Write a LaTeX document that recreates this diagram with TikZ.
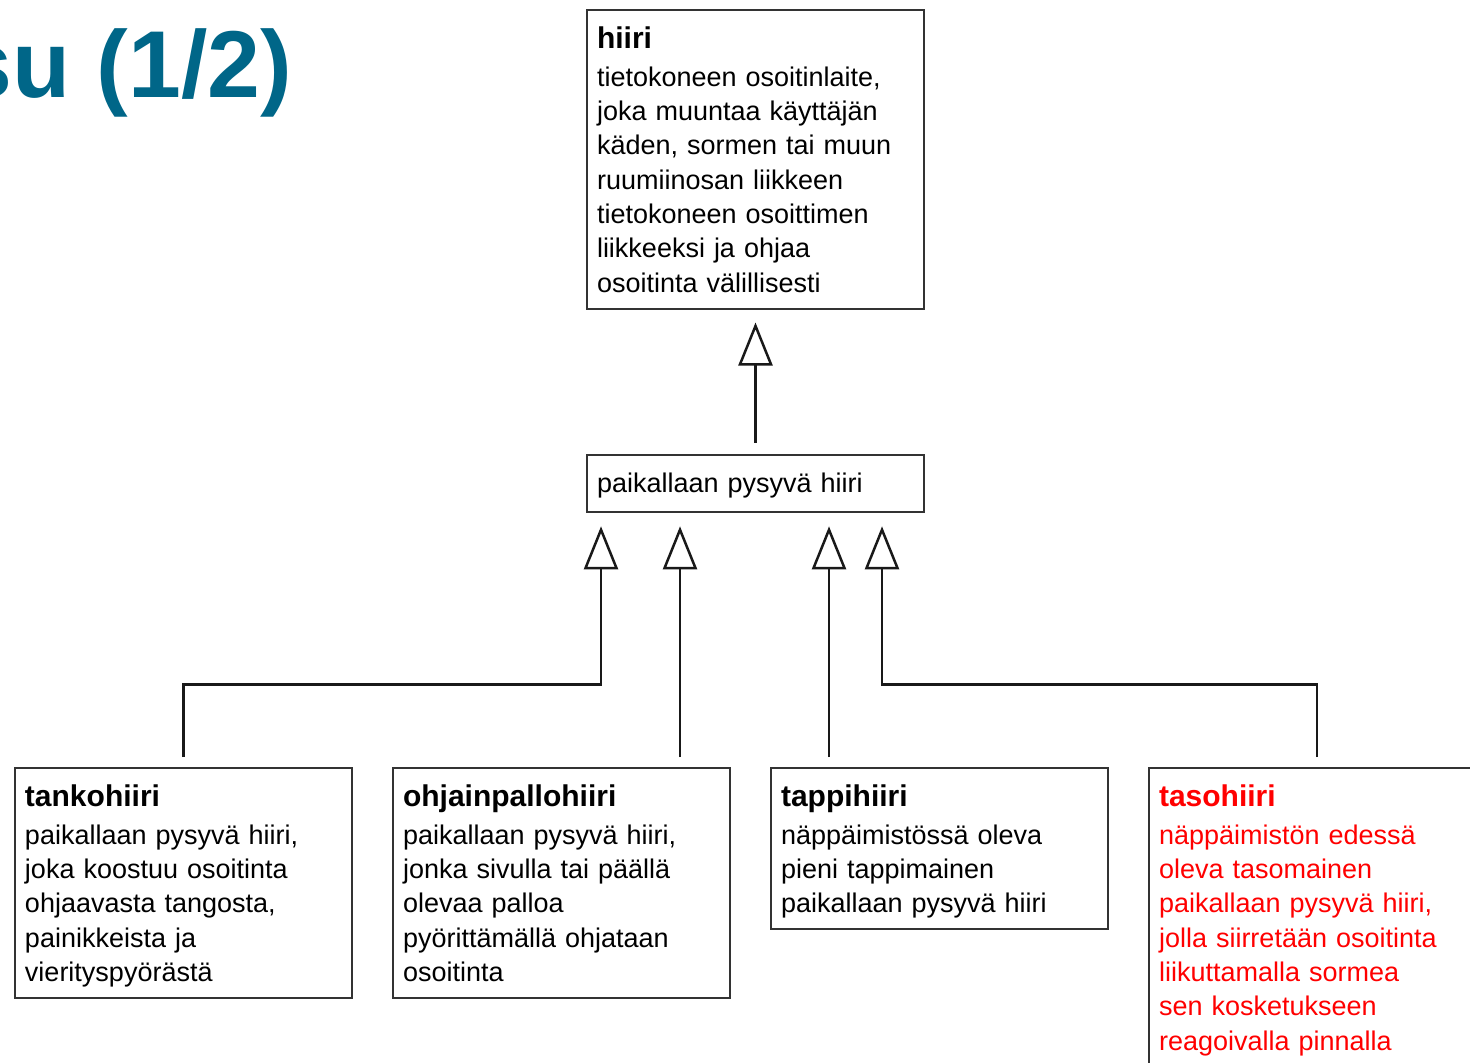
\documentclass[tikz,border=0pt]{standalone}
\usepackage{fontspec}
\setmainfont{Liberation Sans}
\usepackage{tikz}
\usetikzlibrary{positioning,calc,arrows.meta}
\definecolor{titleblue}{HTML}{006688}
\newcommand{\boxhead}[1]{{\fontsize{15}{17.15}\selectfont\bfseries #1}}

\begin{document}
\begin{tikzpicture}[
      x = 0.5pt, y = -0.5pt,
      base/.style={rectangle, draw=black!80, line width=1pt, outer sep=0pt,
        anchor=north west, align=left, text width=158.5pt,
        inner xsep=5pt, inner ysep=4pt, text height=15.4pt,
        execute at end node={\rule[-4.2pt]{0pt}{1pt}},
        font=\fontsize{13.5}{17.15}\selectfont},
      red/.style={base, text=red},
      isa/.style={line width=1.25pt, draw=black!90,
        -{Triangle[open, length=21.5pt, width=17pt, line width=1.25pt]},
        shorten <=5.5pt, shorten >=7pt},
      title/.style={inner sep=0pt, anchor=base west, text=titleblue,
        font=\fontsize{47.5}{57}\bfseries},
    ]
      \useasboundingbox (0,0) rectangle (1470,1062);
      \clip (0,0) rectangle (1470,1062);

      % title
      \node[title] (title) at (-41,97) {su (1/2)};

      % top
      \node[base] (hiiri) at (587,10) {\boxhead{hiiri}\\[1.6pt]
        tietokoneen osoitinlaite,\\
        joka muuntaa käyttäjän\\
        käden, sormen tai muun\\
        ruumiinosan liikkeen\\
        tietokoneen osoittimen\\
        liikkeeksi ja ohjaa\\
        osoitinta välillisesti};

      \node[base, text height=11.5pt, text depth=2.8pt, inner ysep=7.3pt,
        below = 73pt of hiiri.south west, anchor=north west] (paik)
        {paikallaan pysyvä hiiri};

      % bottom row
      \node[base] (tanko) at (15,768) {\boxhead{tankohiiri}\\[1.6pt]
        paikallaan pysyvä hiiri,\\
        joka koostuu osoitinta\\
        ohjaavasta tangosta,\\
        painikkeista ja\\
        vierityspyörästä};
      \node[base, right = 20.5pt of tanko.north east, anchor=north west] (ohjain)
        {\boxhead{ohjainpallohiiri}\\[1.6pt]
        paikallaan pysyvä hiiri,\\
        jonka sivulla tai päällä\\
        olevaa palloa\\
        pyörittämällä ohjataan\\
        osoitinta};
      \node[base, right = 20.5pt of ohjain.north east, anchor=north west] (tappi)
        {\boxhead{tappihiiri}\\[1.6pt]
        näppäimistössä oleva\\
        pieni tappimainen\\
        paikallaan pysyvä hiiri};
      \node[red, right = 20.5pt of tappi.north east, anchor=north west] (taso)
        {\boxhead{tasohiiri}\\[1.6pt]
        näppäimistön edessä\\
        oleva tasomainen\\
        paikallaan pysyvä hiiri,\\
        jolla siirretään osoitinta\\
        liikuttamalla sormea\\
        sen kosketukseen\\
        reagoivalla pinnalla};

      % arrow tips under paik
      \coordinate (t1) at ($ (paik.south west) + (14,0) $);
      \coordinate (t2) at ($ (paik.south west) + (93,0) $);
      \coordinate (t3) at ($ (paik.south west) + (242,0) $);
      \coordinate (t4) at ($ (paik.south west) + (295,0) $);
      \coordinate (tasoup) at ($ (taso.north west) + (168,0) $);

      \draw[isa, shorten <=6pt] (paik.north -| hiiri.south) -- (hiiri.south);

      \draw[isa] (tanko.north) |- ($ (t1) + (0,172) $) -- (t1);
      \draw[isa] (ohjain.north -| t2) -- (t2);
      \draw[isa] (tappi.north -| t3) -- (t3);
      \draw[isa] (tasoup) |- ($ (t4) + (0,172) $) -- (t4);

    \end{tikzpicture}
\end{document}
